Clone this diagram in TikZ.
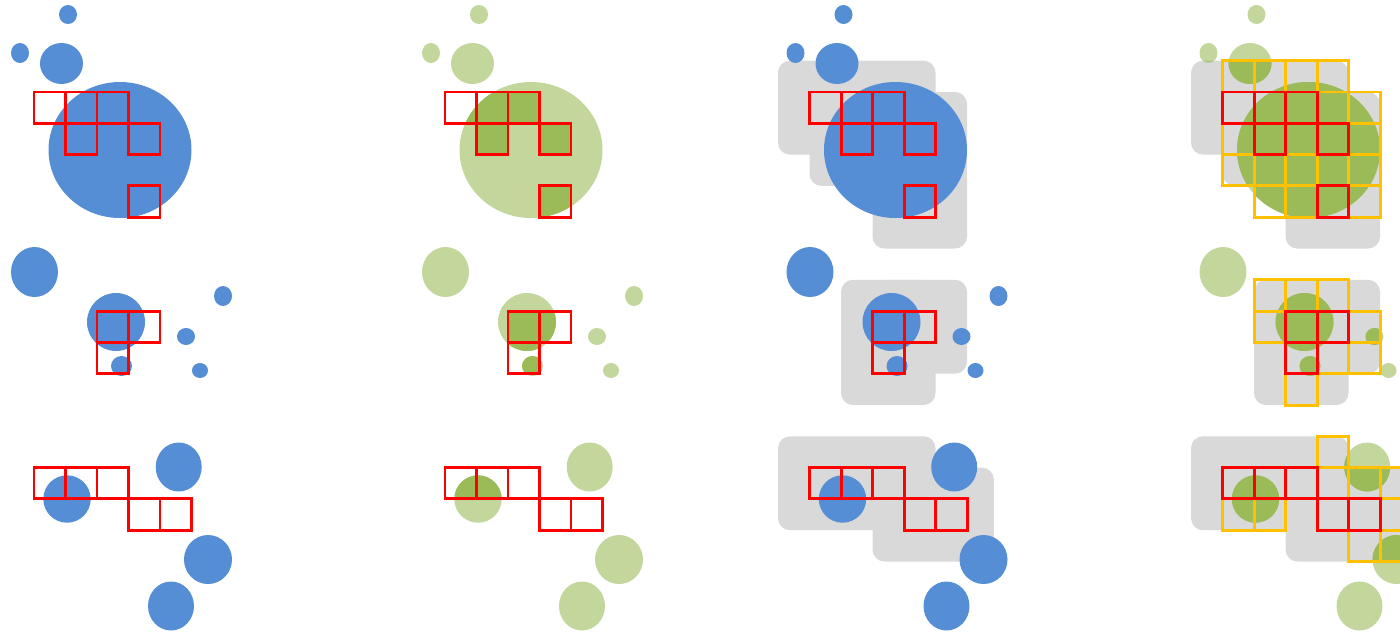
\documentclass[tikz,border=0pt]{standalone}
\usepackage{tikz}
\definecolor{sky}{HTML}{558ED5}
\definecolor{leaf}{HTML}{9BBB59}
\definecolor{fog}{HTML}{D9D9D9}
\definecolor{signal}{HTML}{FF0000}
\definecolor{amber}{HTML}{FFC000}
\tikzset{
  blob/.style={fill=sky},
  pale/.style={fill=leaf,fill opacity=0.6},
  ripe/.style={fill=leaf},
  redcell/.style={draw=signal,line width=1.7pt},
  yelcell/.style={draw=amber,line width=1.7pt},
  zone/.style={fill=fog,rounded corners=6.8pt},
}
% blobs: cx/cy/rx/ry in pixels of the first panel
\newcommand\blobs{120/150/71.5/68, 61.5/63.5/21.5/20.5, 20/53/9/10, 68/14.5/9/9.5,
  34.5/272/23.5/25, 116/322/29/29, 121.5/366/10.5/10, 223/296/9/10, 186/336.5/9/8.5, 200/370.5/8/7.5,
  67/499/23.7/23.7, 178.7/467/23/24.5, 208/559.5/24/24.5, 171/606/23/24.5}
\newcommand\redcells{0/0,1/0,2/0,1/1,3/1,3/3,2/7,3/7,2/8,0/12,1/12,2/12,3/13,4/13}
\newcommand\yelcells{0/-1,1/-1,2/-1,3/-1,0/0,1/0,2/0,3/0,4/0,0/1,1/1,2/1,3/1,4/1,
  0/2,1/2,2/2,3/2,4/2,1/3,2/3,3/3,4/3,
  1/6,2/6,3/6,1/7,2/7,3/7,4/7,2/8,3/8,4/8,2/9,
  3/11,3/12,4/12,5/12,0/13,1/13,5/13,4/14,5/14}
\newcommand\zones{-1/-1/4/2, 0/0/3/3, 2/0/5/5, 1/6/4/10, 2/6/5/9, -1/11/4/14, 2/12/5.85/15}
\newcommand\cellat[2]{({34+31.5*(#1)},{92+31.3*(#2)}) rectangle +(31.5,31.3)}
\newcommand\spanat[4]{({34+31.5*(#1)},{92+31.3*(#2)}) rectangle ({34+31.5*(#3)},{92+31.3*(#4)})}

\begin{document}
\begin{tikzpicture}[x=0.02cm,y=-0.02cm]
  \clip (0,0) rectangle (1400,633);
  % panel 1
  \foreach \cx/\cy/\rx/\ry in \blobs \fill[blob] (\cx,\cy) ellipse [x radius=\rx, y radius=\ry];
  \foreach \i/\j in \redcells \draw[redcell] \cellat{\i}{\j};
  % panel 2
  \begin{scope}[shift={(411,0)}]
    \foreach \cx/\cy/\rx/\ry in \blobs \fill[pale] (\cx,\cy) ellipse [x radius=\rx, y radius=\ry];
    \begin{scope}
      \clip \foreach \i/\j in \redcells {\cellat{\i}{\j}};
      \foreach \cx/\cy/\rx/\ry in \blobs \fill[ripe] (\cx,\cy) ellipse [x radius=\rx, y radius=\ry];
    \end{scope}
    \foreach \i/\j in \redcells \draw[redcell] \cellat{\i}{\j};
  \end{scope}
  % panel 3
  \begin{scope}[shift={(775.5,0)}]
    \foreach \a/\b/\c/\d in \zones \fill[zone] \spanat{\a}{\b}{\c}{\d};
    \foreach \cx/\cy/\rx/\ry in \blobs \fill[blob] (\cx,\cy) ellipse [x radius=\rx, y radius=\ry];
    \foreach \i/\j in \redcells \draw[redcell] \cellat{\i}{\j};
  \end{scope}
  % panel 4
  \begin{scope}[shift={(1188.5,0)}]
    \foreach \a/\b/\c/\d in \zones \fill[zone] \spanat{\a}{\b}{\c}{\d};
    \foreach \cx/\cy/\rx/\ry in \blobs \fill[pale] (\cx,\cy) ellipse [x radius=\rx, y radius=\ry];
    \begin{scope}
      \clip \foreach \i/\j in \yelcells {\cellat{\i}{\j}} \foreach \i/\j in \redcells {\cellat{\i}{\j}};
      \foreach \cx/\cy/\rx/\ry in \blobs \fill[ripe] (\cx,\cy) ellipse [x radius=\rx, y radius=\ry];
    \end{scope}
    \foreach \i/\j in \yelcells \draw[yelcell] \cellat{\i}{\j};
    \foreach \i/\j in \redcells \draw[redcell] \cellat{\i}{\j};
  \end{scope}
\end{tikzpicture}
\end{document}
